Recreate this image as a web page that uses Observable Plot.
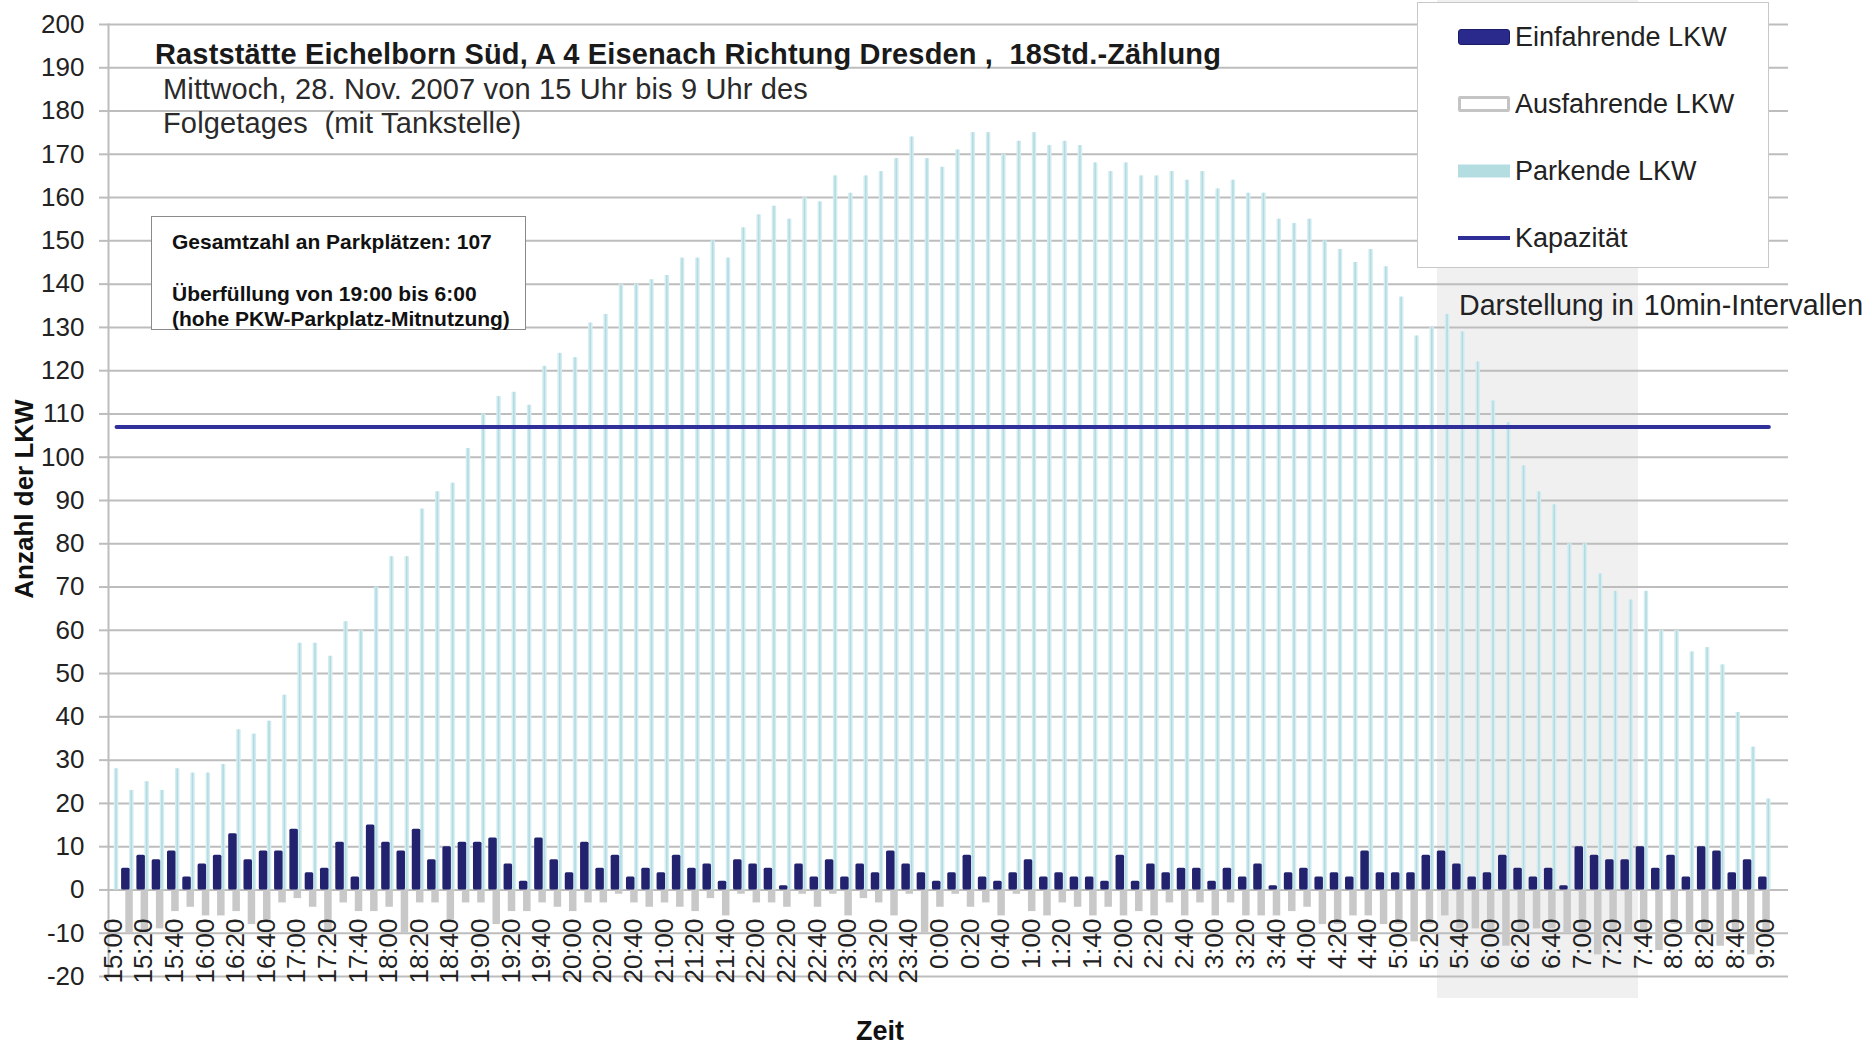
<!DOCTYPE html>
<html>
<head>
<meta charset="utf-8">
<script src="https://cdn.jsdelivr.net/npm/d3@7"></script>
<script src="https://cdn.jsdelivr.net/npm/@observablehq/plot@0.6"></script>
<style>
html,body{margin:0;padding:0;background:#fff;}
#wrap{position:relative;width:1875px;height:1046px;overflow:hidden;font-family:"Liberation Sans",Arial,sans-serif;color:#222;}
#shade{position:absolute;left:1437px;top:0;width:201px;height:998px;background:#f0f0f0;z-index:0;}
#chart{position:absolute;left:0;top:0;z-index:1;}
.t{position:absolute;white-space:pre;z-index:2;line-height:1;transform:translateY(-50%);}
#box{position:absolute;left:151px;top:216px;width:373px;height:112px;border:1.5px solid #8a8a8a;background:#fff;z-index:2;}
#box .t{font-weight:bold;font-size:21px;left:20px;color:#111;}
#legend{position:absolute;left:1417px;top:2px;width:350px;height:264px;border:1.5px solid #c8c8c8;background:#fff;z-index:2;}
#legend .t{font-size:27px;left:97px;color:#222;}
.sw{position:absolute;left:40px;width:52px;transform:translateY(-50%);box-sizing:border-box;}
</style>
</head>
<body>
<div id="wrap">
  <div id="shade"></div>
  <div id="chart"></div>
  <div class="t" style="left:155px;top:54px;font-weight:bold;font-size:29px;letter-spacing:0.15px;color:#1a1a1a;">Raststätte Eichelborn Süd, A 4 Eisenach Richtung Dresden ,  18Std.-Zählung</div>
  <div class="t" style="left:163px;top:89px;font-size:29px;letter-spacing:0.15px;color:#2a2a2a;">Mittwoch, 28. Nov. 2007 von 15 Uhr bis 9 Uhr des</div>
  <div class="t" style="left:163px;top:123px;font-size:29px;letter-spacing:0.15px;color:#2a2a2a;">Folgetages  (mit Tankstelle)</div>
  <div id="box">
    <div class="t" style="top:24px;">Gesamtzahl an Parkplätzen: 107</div>
    <div class="t" style="top:76px;">Überfüllung von 19:00 bis 6:00</div>
    <div class="t" style="top:101px;">(hohe PKW-Parkplatz-Mitnutzung)</div>
  </div>
  <div id="legend">
    <div class="sw" style="top:34px;height:16px;background:#2a2a8c;border:1px solid #1c1c66;border-radius:3px;"></div>
    <div class="t" style="top:34px;">Einfahrende LKW</div>
    <div class="sw" style="top:101px;height:16px;background:#fff;border:3px solid #c4c4c4;border-radius:2px;"></div>
    <div class="t" style="top:101px;">Ausfahrende LKW</div>
    <div class="sw" style="top:168px;height:13px;background:#b4dde2;"></div>
    <div class="t" style="top:168px;">Parkende LKW</div>
    <div class="sw" style="top:235px;height:4px;background:#2e2e96;"></div>
    <div class="t" style="top:235px;">Kapazität</div>
  </div>
  <div class="t" style="left:1459px;top:305px;font-size:28.6px;color:#222;">Darstellung in<span style="margin-left:10px;">10min-Intervallen</span></div>
  <div class="t" style="left:880px;top:1031px;font-weight:bold;font-size:27px;color:#111;transform:translate(-50%,-50%);">Zeit</div>
  <div class="t" style="left:24px;top:499px;font-weight:bold;font-size:26px;color:#111;transform:translate(-50%,-50%) rotate(-90deg);">Anzahl der LKW</div>
</div>
<script>
const times = [
  "15:00","15:10","15:20","15:30","15:40","15:50",
  "16:00","16:10","16:20","16:30","16:40","16:50",
  "17:00","17:10","17:20","17:30","17:40","17:50",
  "18:00","18:10","18:20","18:30","18:40","18:50",
  "19:00","19:10","19:20","19:30","19:40","19:50",
  "20:00","20:10","20:20","20:30","20:40","20:50",
  "21:00","21:10","21:20","21:30","21:40","21:50",
  "22:00","22:10","22:20","22:30","22:40","22:50",
  "23:00","23:10","23:20","23:30","23:40","23:50",
  "0:00","0:10","0:20","0:30","0:40","0:50",
  "1:00","1:10","1:20","1:30","1:40","1:50",
  "2:00","2:10","2:20","2:30","2:40","2:50",
  "3:00","3:10","3:20","3:30","3:40","3:50",
  "4:00","4:10","4:20","4:30","4:40","4:50",
  "5:00","5:10","5:20","5:30","5:40","5:50",
  "6:00","6:10","6:20","6:30","6:40","6:50",
  "7:00","7:10","7:20","7:30","7:40","7:50",
  "8:00","8:10","8:20","8:30","8:40","8:50",
  "9:00"
];
const xTickLabels = [
  "15:00","15:20","15:40","16:00","16:20","16:40","17:00","17:20","17:40","18:00","18:20","18:40",
  "19:00","19:20","19:40","20:00","20:20","20:40","21:00","21:20","21:40","22:00","22:20","22:40",
  "23:00","23:20","23:40","0:00","0:20","0:40","1:00","1:20","1:40","2:00","2:20","2:40",
  "3:00","3:20","3:40","4:00","4:20","4:40","5:00","5:20","5:40","6:00","6:20","6:40",
  "7:00","7:20","7:40","8:00","8:20","8:40","9:00"
];
const yTicks = [-20,-10,0,10,20,30,40,50,60,70,80,90,100,110,120,130,140,150,160,170,180,190,200];

const einfahrende = [
  0,5,8,7,9,3,6,8,13,7,
  9,9,14,4,5,11,3,15,11,9,
  14,7,10,11,11,12,6,2,12,7,
  4,11,5,8,3,5,4,8,5,6,
  2,7,6,5,1,6,3,7,3,6,
  4,9,6,4,2,4,8,3,2,4,
  7,3,4,3,3,2,8,2,6,4,
  5,5,2,5,3,6,1,4,5,3,
  4,3,9,4,4,4,8,9,6,3,
  4,8,5,3,5,1,10,8,7,7,
  10,5,8,3,10,9,4,7,3
];
const ausfahrende = [
  0,-10,-10,-9,-5,-4,-6,-6,-5,-8,
  -7,-3,-2,-4,-10,-3,-5,-5,-4,-10,
  -3,-3,-7,-3,-3,-8,-5,-5,-3,-4,
  -5,-3,-3,-1,-3,-4,-3,-4,-5,-2,
  -6,-1,-3,-3,-4,-1,-4,-1,-6,-2,
  -3,-6,-1,-10,-4,-1,-4,-3,-6,-1,
  -5,-6,-3,-4,-6,-4,-6,-5,-6,-3,
  -6,-3,-6,-3,-6,-6,-6,-5,-4,-8,
  -8,-6,-6,-8,-8,-12,-8,-6,-9,-9,
  -10,-13,-10,-9,-9,-10,-10,-15,-10,-10,
  -10,-14,-8,-10,-10,-13,-10,-15,-10
];
const parkende = [
  28,23,25,23,28,27,27,29,37,36,
  39,45,57,57,54,62,60,70,77,77,
  88,92,94,102,110,114,115,112,121,124,
  123,131,133,140,140,141,142,146,146,150,
  146,153,156,158,155,160,159,165,161,165,
  166,169,174,169,167,171,175,175,170,173,
  175,172,173,172,168,166,168,165,165,166,
  164,166,162,164,161,161,155,154,155,150,
  148,145,148,144,137,128,130,133,129,122,
  113,108,98,92,89,80,80,73,69,67,
  69,60,60,55,56,52,41,33,21
];
const kapazitaet = 107;

const rows = times.map((t, i) => ({t, ein: einfahrende[i], aus: ausfahrende[i], park: parkende[i]}));

const chart = Plot.plot({
  width: 1875,
  height: 1046,
  marginLeft: 108,
  marginRight: 87,
  marginTop: 24,
  marginBottom: 70,
  style: {background: "transparent", fontFamily: "'Liberation Sans', Arial, sans-serif", color: "#222"},
  x: {type: "band", domain: times, range: [108.4, 1776], padding: 0, axis: null},
  y: {domain: [-20, 200], axis: null},
  marks: [
    Plot.gridY(yTicks, {stroke: "#bdbdbd", strokeOpacity: 1, strokeWidth: 2}),
    Plot.barY(rows, {x: "t", y: "park", fill: "#d4edf1", insetLeft: 5.4, insetRight: 5.4}),
    Plot.barY(rows, {x: "t", y: "park", fill: "#b2dae1", insetLeft: 6.9, insetRight: 6.9}),
    Plot.barY(rows, {x: "t", y: "aus", fill: "#c8c8c8", dx: -2.3, insetLeft: 3.9, insetRight: 3.9}),
    Plot.barY(rows, {x: "t", y: "ein", fill: "#22226f", dx: -6, insetLeft: 3.4, insetRight: 3.4, rx: 1.5}),
    Plot.lineY(times, {x: d => d, y: () => kapazitaet, stroke: "#30309a", strokeWidth: 4}),
    Plot.frame({anchor: "left", stroke: "#bdbdbd", strokeWidth: 2}),
    Plot.axisY(yTicks, {tickSize: 9, tickPadding: 15, stroke: "#bdbdbd", strokeWidth: 2, fill: "#222", fontSize: 26, tickFormat: d => String(d), label: null}),
    Plot.axisX(xTickLabels, {anchor: "bottom", tickSize: 0, tickPadding: 0, tickRotate: -90, dy: -58, dx: -3, fontSize: 26, fill: "#222", label: null})
  ]
});
document.getElementById("chart").appendChild(chart);
</script>
</body>
</html>
